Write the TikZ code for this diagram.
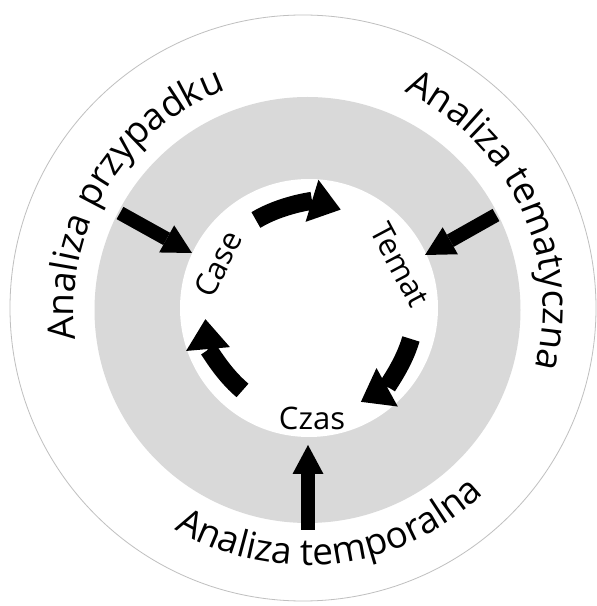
\documentclass[tikz,border=0pt]{standalone}
\usepackage{fontspec}
\setmainfont{Open Sans}
\usetikzlibrary{arrows.meta,decorations.text,calc}
\begin{document}
\begin{tikzpicture}[x=1pt,y=1pt,
  inlabel/.style={font=\fontsize{31}{36}\selectfont, inner sep=0pt},
  straightarrow/.style={line width=14pt,
    -{Triangle[width=31pt,length=29pt,line width=0pt]}},
  cyclearrow/.style={line width=18pt,
    -{Triangle[width=44pt,length=30pt,line width=0pt]}},
  arclabel/.style={decorate, decoration={text along path,
    text align=center,
    text={|\fontsize{37}{44}\selectfont|#1}}}]
\useasboundingbox (0,0) rectangle (597,606);
\fill[white] (0,0) rectangle (597,606);

% rings
\draw[draw=black!25, line width=0.8pt, fill=white] (303,298) circle[radius=293];
\fill[black!15] (307.5,296) circle[radius=213];
\fill[white] (309,298) circle[radius=129];

% outer labels along arcs, each centred on its arc
\coordinate (T) at (306,298);
\path[arclabel={Analiza przypadku}]
  ($(T)+(209:232)$) arc[start angle=209, end angle=89, radius=232];
\path[arclabel={Analiza tematyczna}]
  ($(T)+(85:237)$) arc[start angle=85, end angle=-34, radius=237];
\path[arclabel={Analiza temporalna}]
  ($(T)+(216:257)$) arc[start angle=216, end angle=337, radius=257];

% inner labels
\node[inlabel, rotate=63]  (case)  at (218,342) {Case};
\node[inlabel, rotate=-62] (temat) at (400,341) {Temat};
\node[inlabel]             (czas)  at (312,188) {Czas};

% cycle of curved arrows
\coordinate (O) at (310,296);
\draw[cyclearrow] ($(O)+(121:105)$) arc[start angle=121, end angle=73, radius=105];
\draw[cyclearrow] ($(O)+(-16:105)$) arc[start angle=-16, end angle=-61, radius=105];
\draw[cyclearrow] ($(O)+(230:105)$) arc[start angle=230, end angle=185, radius=105];

% straight arrows from the outer analyses
\coordinate (ptail) at (120,393);
\coordinate (phead) at (192,353);
\coordinate (ttail) at (496,391);
\coordinate (thead) at (425,351);
\coordinate (ztail) at (308,76);
\coordinate (zhead) at (308,161);
\draw[straightarrow] (ptail) -- (phead);
\draw[straightarrow] (ttail) -- (thead);
\draw[straightarrow] (ztail) -- (zhead);
\end{tikzpicture}
\end{document}
